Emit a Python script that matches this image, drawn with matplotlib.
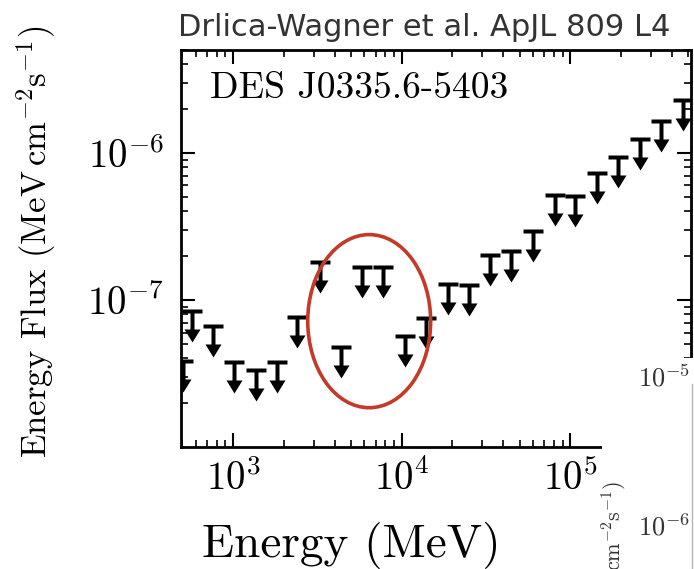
import numpy as np
import matplotlib
matplotlib.use("Agg")
import matplotlib.pyplot as plt
from matplotlib.path import Path
from matplotlib.patches import Ellipse, Rectangle

plt.rcParams['mathtext.fontset'] = 'cm'
plt.rcParams['font.family'] = 'cmr10'
plt.rcParams['axes.formatter.use_mathtext'] = True

# upper limits (MeV, MeV cm^-2 s^-1)
energy = [505, 571, 760, 1014, 1368, 1824, 2399, 3281, 4375, 5834, 7762,
          10500, 13960, 18880, 25180, 33500, 44670, 60260, 81470, 107200,
          144500, 192800, 260000, 346700, 468800]
flux_ul = [3.85e-8, 8.4e-8, 6.66e-8, 3.78e-8, 3.34e-8, 3.78e-8, 7.66e-8,
           1.81e-7, 4.79e-8, 1.67e-7, 1.67e-7, 5.69e-8, 7.55e-8, 1.29e-7,
           1.26e-7, 2.02e-7, 2.15e-7, 2.94e-7, 5.17e-7, 5.09e-7, 7.31e-7,
           9.39e-7, 1.24e-6, 1.65e-6, 2.30e-6]

source = 'DES J0335.6-5403'
credit = 'Drlica-Wagner et al. ApJL 809 L4'

# "T" with a down arrow as one filled marker, origin at the cap
ul_path = Path([(-10, 2), (10, 2), (10, -2), (2, -2), (2, -18),
                (8, -18), (0, -31), (-8, -18), (-2, -18), (-2, -2),
                (-10, -2), (-10, 2)], closed=True)

fig = plt.figure(figsize=(6.94, 5.69), dpi=100)
ax = fig.add_axes([0.2608, 0.2144, 0.7349, 0.6977])

ax.plot(energy, flux_ul, ls='none', marker=ul_path, ms=44.6,
        mfc='black', mec='black', mew=0)

ax.set_xscale('log')
ax.set_yscale('log')
ax.set_xlim(491, 5.2e5)
ax.set_ylim(1e-8, 5e-6)
ax.set_yticks([1e-7, 1e-6])

for s in ax.spines.values():
    s.set_linewidth(2.0)
ax.tick_params(which='both', direction='in', top=True, right=True)
ax.tick_params(which='major', length=10, width=1.5, labelsize=28)
ax.tick_params(axis='x', which='major', pad=9)
ax.tick_params(axis='y', which='major', pad=12)
ax.tick_params(which='minor', length=5, width=1.2)

ax.set_xlabel('Energy (MeV)', fontsize=34)
ax.xaxis.set_label_coords(0.333, -0.19)
ax.set_ylabel(r'Energy Flux $(\mathrm{MeV\,cm^{-2}s^{-1}})$', fontsize=25)
ax.yaxis.set_label_coords(-0.241, 0.516)

ax.text(0.0569, 0.879, source, transform=ax.transAxes, fontsize=27,
        ha='left', va='baseline')

ax.add_patch(Ellipse((0.369, 0.317), 0.241, 0.436, transform=ax.transAxes,
                     fill=False, ec='#c43a28', lw=2.6, zorder=5))

# bits of the neighbouring panel that cover the lower right corner
fig.patches.append(Rectangle((0.8674, 0), 0.2, 0.3708, transform=fig.transFigure,
                             fc='white', ec='none', zorder=5))
fig.lines.append(plt.Line2D([0.997, 0.997], [0, 0.325], transform=fig.transFigure,
                            color='#b5b5b5', lw=1, zorder=6))
fig.text(0.994, 0.336, r'$10^{-5}$', fontsize=19, color='#333333',
         ha='right', va='center', zorder=7)
fig.text(0.994, 0.074, r'$10^{-6}$', fontsize=19, color='#333333',
         ha='right', va='center', zorder=7)
fig.text(0.886, 0.156, r'Energy Flux $(\mathrm{MeV\,cm^{-2}s^{-1}})$',
         fontsize=16, rotation=90, color='#333333', ha='center', va='top',
         zorder=7)

fig.text(0.2565, 0.952, credit, family='DejaVu Sans', fontsize=22,
         color='#333333', ha='left', va='center')

fig.savefig('out.png', dpi=100)
